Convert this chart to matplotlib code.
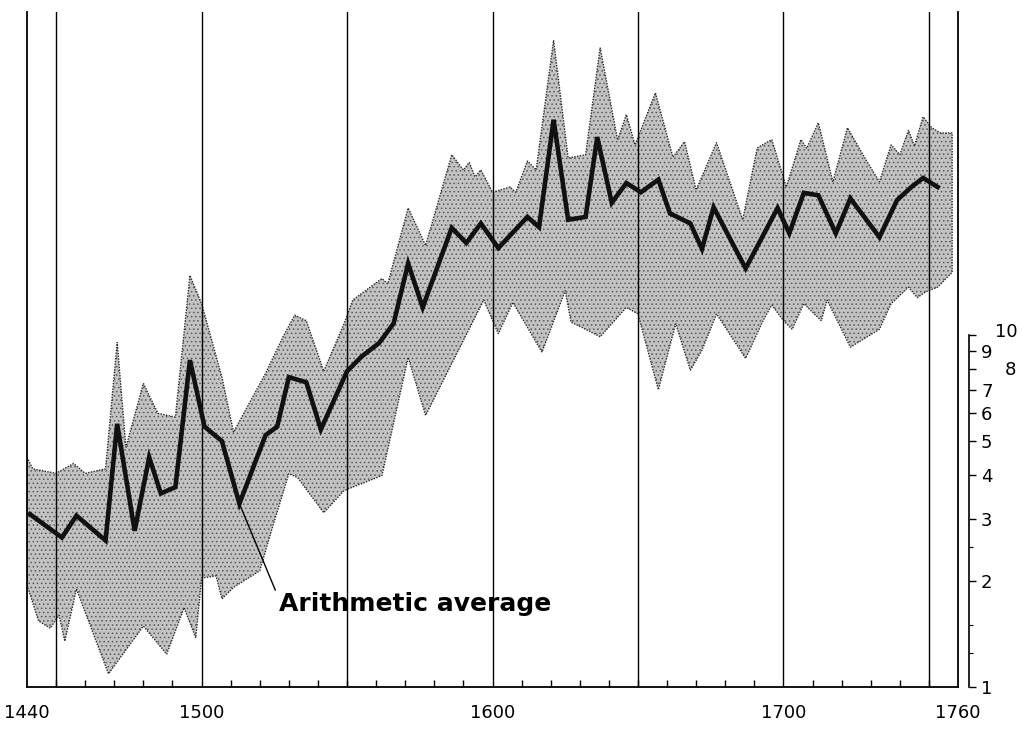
import numpy as np
import matplotlib.pyplot as plt
from matplotlib.ticker import FixedLocator, FixedFormatter, NullLocator

# arithmetic average (thick line)
mean_years = [1441, 1452, 1457, 1467, 1471, 1477, 1482, 1486, 1491, 1496,
              1501, 1507, 1513, 1522, 1526, 1530, 1536, 1541, 1550, 1555,
              1561, 1566, 1571, 1576, 1586, 1591, 1596, 1602, 1612, 1616,
              1621, 1626, 1632, 1636, 1641, 1646, 1651, 1657, 1661, 1668,
              1672, 1676, 1687, 1698, 1702, 1707, 1712, 1718, 1723, 1733,
              1739, 1744, 1748, 1753]
mean_vals = [3.1, 2.66, 3.07, 2.61, 5.6, 2.78, 4.5, 3.55, 3.7, 8.5,
             5.5, 5.0, 3.32, 5.2, 5.5, 7.6, 7.35, 5.4, 7.9, 8.7,
             9.5, 10.8, 16.0, 12.0, 20.2, 18.3, 20.8, 17.7, 21.7, 20.3,
             41.0, 21.3, 21.7, 36.6, 23.8, 27.1, 25.5, 27.7, 22.2, 20.8,
             17.6, 23.1, 15.5, 23.0, 19.5, 25.4, 25.0, 19.5, 24.5, 19.0,
             24.2, 26.4, 28.0, 26.4]

# upper edge of the shaded range
upper_years = [1440, 1442, 1450, 1456, 1460, 1467, 1471, 1474, 1480, 1485,
               1491, 1496, 1500, 1507, 1511, 1522, 1528, 1532, 1536, 1542,
               1549, 1552, 1562, 1564, 1571, 1577, 1586, 1590, 1592, 1594,
               1596, 1600, 1606, 1608, 1612, 1615, 1621, 1626, 1632, 1637,
               1643, 1646, 1649, 1656, 1662, 1666, 1670, 1677, 1686, 1691,
               1696, 1701, 1706, 1708, 1712, 1717, 1722, 1729, 1733, 1737,
               1740, 1743, 1745, 1748, 1751, 1754, 1758]
upper_vals = [4.5, 4.17, 4.05, 4.32, 4.05, 4.17, 9.55, 4.8, 7.3, 6.0,
              5.85, 14.8, 12.3, 7.6, 5.3, 7.8, 9.9, 11.4, 11.0, 7.9,
              10.8, 12.6, 14.5, 14.0, 23.0, 18.0, 32.6, 29.5, 31.0, 28.2,
              29.5, 25.5, 26.4, 25.5, 31.3, 29.5, 69.0, 31.9, 32.6, 65.7,
              35.9, 42.4, 34.8, 48.9, 32.1, 35.5, 25.9, 35.3, 21.3, 34.1,
              36.0, 26.4, 36.0, 34.0, 40.2, 27.3, 38.9, 30.9, 27.3, 34.8,
              32.6, 38.3, 34.5, 41.8, 38.9, 37.6, 37.6]

# lower edge of the shaded range
lower_years = [1440, 1444, 1448, 1451, 1453, 1457, 1468, 1480, 1488, 1494,
               1498, 1500, 1505, 1507, 1511, 1520, 1524, 1530, 1533, 1542,
               1549, 1562, 1571, 1577, 1597, 1602, 1607, 1617, 1625, 1627,
               1632, 1637, 1646, 1650, 1657, 1663, 1668, 1672, 1677, 1687,
               1693, 1696, 1700, 1703, 1707, 1713, 1715, 1723, 1733, 1737,
               1743, 1746, 1749, 1753, 1758]
lower_vals = [1.95, 1.54, 1.47, 1.6, 1.35, 1.9, 1.09, 1.49, 1.24, 1.68,
              1.38, 2.04, 2.07, 1.78, 1.92, 2.14, 2.78, 4.04, 3.94, 3.13,
              3.62, 3.99, 8.65, 5.92, 12.6, 10.1, 12.4, 8.95, 13.4, 10.9,
              10.4, 9.9, 12.0, 11.5, 7.0, 10.8, 7.95, 9.07, 11.5, 8.6,
              11.0, 12.2, 11.0, 10.4, 12.3, 11.0, 12.6, 9.25, 10.4, 12.3,
              13.7, 12.8, 13.3, 13.7, 15.1]

grid_years = [1450, 1500, 1550, 1600, 1650, 1700, 1750]
xtick_years = [1440, 1500, 1600, 1700, 1760]
scale_ticks = [1, 2, 3, 4, 5, 6, 7, 8, 9, 10]
scale_labels = ['1', '2', '3', '4', '5', '6', '7', '', '9', '']

plt.rcParams['hatch.linewidth'] = 0.6

W, H = 1024, 733
fig = plt.figure(figsize=(W / 100, H / 100), dpi=100)
ax = fig.add_axes([27 / W, 46 / H, 931 / W, 675 / H])
ax.set_yscale('log')
ax.set_xlim(1440, 1760)
ax.set_ylim(1, 83)

# shaded range (stippled grey)
band_x = upper_years + lower_years[::-1]
band_y = upper_vals + lower_vals[::-1]
ax.fill(band_x, band_y, facecolor='#c2c2c2', edgecolor='none', zorder=1)
ax.fill(band_x, band_y, facecolor='none', edgecolor='#5a5a5a',
        hatch='....', linewidth=0, zorder=1)
ax.fill(band_x, band_y, facecolor='none', edgecolor='#2a2a2a',
        linewidth=1.0, linestyle=(0, (1, 1)), zorder=1)

for yr in grid_years:
    ax.axvline(yr, color='black', linewidth=1.0, zorder=2)

ax.plot(mean_years, mean_vals, color='#111111', linewidth=3.3,
        solid_joinstyle='miter', zorder=3)

ax.annotate('Arithmetic average', xy=(1513, 3.32), xytext=(1526.5, 1.72),
            fontsize=18, fontweight='bold', ha='left', va='center',
            arrowprops=dict(arrowstyle='-', color='black', lw=1.0,
                            shrinkA=1, shrinkB=0, relpos=(0, 0.75)),
            zorder=4)

ax.spines['top'].set_visible(False)
for s in ['left', 'right', 'bottom']:
    ax.spines[s].set_linewidth(1.3)

ax.yaxis.set_major_locator(NullLocator())
ax.yaxis.set_minor_locator(NullLocator())
ax.xaxis.set_major_locator(FixedLocator(xtick_years))
ax.xaxis.set_major_formatter(FixedFormatter([str(y) for y in xtick_years]))
ax.xaxis.set_minor_locator(FixedLocator(list(range(1440, 1761, 10))))
ax.tick_params(axis='x', which='major', length=0, pad=12, labelsize=13)
ax.tick_params(axis='x', which='minor', direction='in', length=5, width=1)

# small log scale on the right, 1 to 10
pos = ax.get_position()
frac = np.log10(10) / np.log10(83)
sc = fig.add_axes([968 / W, pos.y0, 0.0005, pos.height * frac])
sc.set_yscale('log')
sc.set_ylim(1, 10)
sc.patch.set_visible(False)
for s in ['top', 'bottom', 'left']:
    sc.spines[s].set_visible(False)
sc.spines['right'].set_linewidth(1.2)
sc.set_xticks([])
sc.yaxis.tick_right()
sc.yaxis.set_major_locator(FixedLocator(scale_ticks))
sc.yaxis.set_major_formatter(FixedFormatter(scale_labels))
sc.yaxis.set_minor_locator(FixedLocator([1.25, 1.5, 2.5]))
sc.yaxis.set_minor_formatter(FixedFormatter(['', '', '']))
sc.tick_params(axis='y', which='major', direction='out', length=5,
               width=1, pad=4, labelsize=13)
sc.tick_params(axis='y', which='minor', direction='out', length=3, width=0.8)
sc.annotate('10', xy=(1, 10.2), xycoords=('axes fraction', 'data'),
            xytext=(27, 0), textcoords='offset points', fontsize=13,
            ha='center', va='center', annotation_clip=False)
sc.annotate('8', xy=(1, 7.95), xycoords=('axes fraction', 'data'),
            xytext=(30, 0), textcoords='offset points', fontsize=13,
            ha='center', va='center', annotation_clip=False)

fig.savefig('out.png', dpi=100)
